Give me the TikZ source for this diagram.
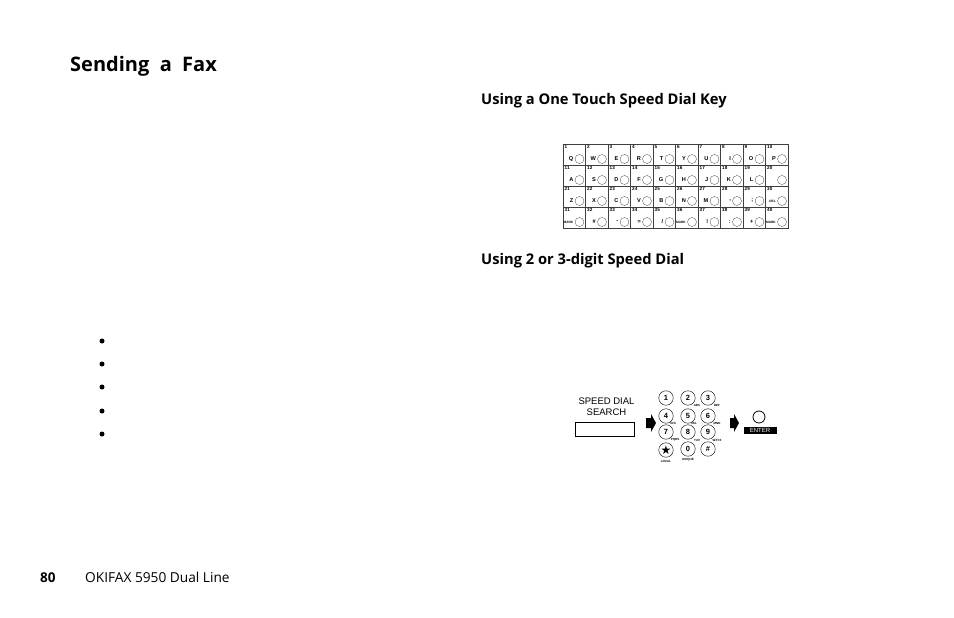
\documentclass[tikz,border=0pt]{standalone}
\usepackage{fontspec}
\setmainfont{Open Sans}
\newfontfamily\keyfont{Liberation Sans}
\newfontfamily\symfont{DejaVu Sans}
\tikzset{
  x=1pt,y=-1pt,
  heading/.style={anchor=base west,inner sep=0pt,font=\bfseries\fontsize{14.7}{16}\selectfont},
  bullet/.style={circle,fill=black,inner sep=0pt,minimum size=5pt},
  gridline/.style={draw=black!75,line width=0.5pt},
  led/.style={circle,draw=black!75,line width=0.3pt,inner sep=0pt,minimum size=9pt},
  numtext/.style={inner sep=0pt,font=\keyfont\bfseries\fontsize{4.6}{4.6}\selectfont},
  lettertext/.style={inner sep=0pt,font=\keyfont\bfseries\fontsize{5.6}{5.6}\selectfont},
  tinytext/.style={inner sep=0pt,font=\keyfont\bfseries\fontsize{3}{3}\selectfont},
  dialkey/.style={circle,draw=black,line width=0.45pt,inner sep=0pt,minimum size=14.5pt,font=\keyfont\bfseries\fontsize{7.5}{8}\selectfont},
  arrowshape/.style={fill=black,draw=none}
}
\begin{document}
\begin{tikzpicture}
\useasboundingbox (0,0) rectangle (954,618);
\node[heading,font=\bfseries\fontsize{20}{24}\selectfont] (title) at (70,72) {Sending\ \ a\ \ Fax};
\node[heading] (h1) at (481,104) {Using a One Touch Speed Dial Key};
\node[heading] (h2) at (481,264) {Using 2 or 3-digit Speed Dial};
\node[anchor=base west,inner sep=0pt,font=\bfseries\fontsize{13.5}{14}\selectfont] (page) at (40,582) {80};
\node[anchor=base west,inner sep=0pt,font=\fontsize{13.7}{14}\selectfont] (foot) at (85,582) {OKIFAX 5950 Dual Line};
\foreach \n/\y in {a/341,b/364,c/387,d/411,e/434} \node[bullet] (bul\n) at (102,\y) {};

% one-touch grid
\draw[gridline] (563,144) rectangle (788,228);
\foreach \i in {1,...,9} \draw[gridline] ({563+22.5*\i},144) -- ({563+22.5*\i},228);
\foreach \j in {1,2,3} \draw[gridline] (563,{144+21*\j}) -- (788,{144+21*\j});
% numbers
\foreach \r/\lst in {0/{1,2,3,4,5,6,7,8,9,10},1/{11,12,13,14,15,16,17,18,19,20},2/{21,22,23,24,25,26,27,28,29,30},3/{31,32,33,34,35,36,37,38,39,40}}{
  \foreach \t [count=\c from 0] in \lst {
    \node[numtext,anchor=west] (n\r-\c) at ({564.5+22.5*\c},{147+21*\r}) {\t};
    \node[led] (l\r-\c) at ({579.5+22.5*\c},{159+21*\r}) {};
  }
}
% letters
\foreach \r/\lst in {0/{Q,W,E,R,T,Y,U,I,O,P},1/{A,S,D,F,G,H,J,K,L,{}},2/{Z,X,C,V,B,N,M,{,},{;},{\fontsize{3.2}{3}\selectfont DEL}},3/{{\fontsize{3.2}{3}\selectfont MARK},{\#},{-},{=},{/},{\fontsize{3.2}{3}\selectfont MARK},{!},{:},{+},{\fontsize{3.2}{3}\selectfont MARK}}}{
  \foreach \t [count=\c from 0] in \lst {
    \node[lettertext,anchor=east] (t\r-\c) at ({573.5+22.5*\c},{159+21*\r}) {\t};
  }
}

% speed dial
\node[inner sep=0pt,align=center,font=\keyfont\fontsize{9.5}{11.5}\selectfont] (sds) at (606.5,406.5) {SPEED DIAL\\SEARCH};
\node[draw=black,line width=0.8pt,minimum width=59pt,minimum height=14pt,inner sep=0pt] (box) at (605,429) {};
\path[arrowshape] (646,418) -- (651,418) -- (651,414) -- (656,423) -- (651,432) -- (651,428) -- (646,428) -- cycle;
\path[arrowshape] (730,418) -- (734,418) -- (734,414) -- (739,423) -- (734,432) -- (734,428) -- (730,428) -- cycle;
\foreach \lab/\nm/\x/\y in {1/a/666/398,2/b/688/398,3/c/708/398,4/d/666/416,5/e/688/416,6/f/708/416,7/g/666/432,8/h/688/432,9/i/708/432,0/k/688/449,\#/l/708/449}
  \node[dialkey] (key\nm) at (\x,\y) {\lab};
\node[dialkey,font=\symfont\fontsize{12}{12}\selectfont] (keyj) at (666,450) {★};
\foreach \lab/\x/\y in {ABC/697/405.5,DEF/717/405.5,GHI/673/423.5,JKL/694/423.5,MNO/717/423.5,PQRS/675/440,TUV/697/440,WXYZ/717/440,UNIQUE/688/459.5,{LOCAL}/666/461}
  \node[tinytext] at (\x,\y) {\lab};
\node[led,draw=black,minimum size=12pt,line width=0.8pt] (ok) at (759,417) {};
\node[fill=black,text=white,inner sep=0pt,minimum width=33pt,minimum height=7.5pt,font=\keyfont\fontsize{6}{6}\selectfont] (enter) at (760,430.5) {ENTER};
\end{tikzpicture}
\end{document}
